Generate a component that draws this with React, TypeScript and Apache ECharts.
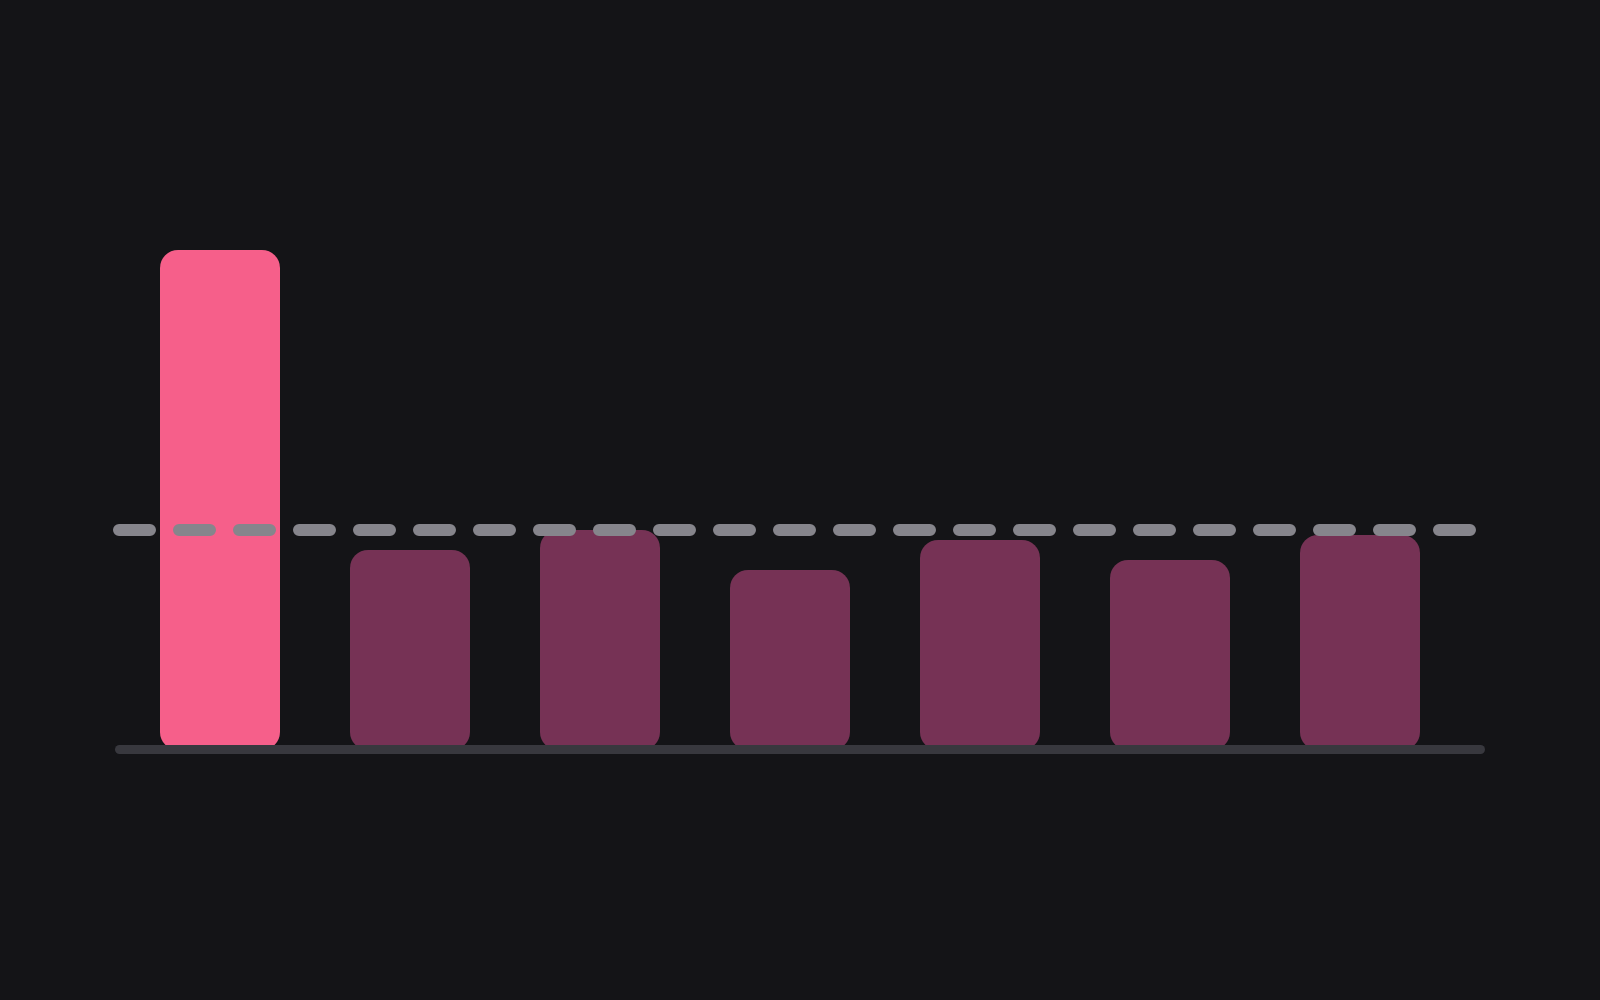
import { useEffect, useRef } from 'react';
import * as echarts from 'echarts';

// data
const categories = ['A', 'B', 'C', 'D', 'E', 'F', 'G'];
const values = [50, 20, 22, 18, 21, 19, 21.5];
const targetValue = 22;
const highlightIndex = 0;

const BG = '#141417';
const HIGHLIGHT = '#f65f8a';
const MUTED = '#763255';
const DASH = '#86858c';
const AXIS = '#38383e';

const GRID = { left: 125, right: 145, top: 150, bottom: 250 };

const App = () => {
    const chartRef = useRef<HTMLDivElement>(null);

    useEffect(() => {
        if (!chartRef.current) return;
        const chart = echarts.init(chartRef.current, undefined, { renderer: 'svg' });

        chart.setOption({
            animation: false,
            backgroundColor: BG,
            grid: GRID,
            xAxis: {
                type: 'category',
                data: categories,
                axisLine: { show: false },
                axisTick: { show: false },
                axisLabel: { show: false },
                splitLine: { show: false }
            },
            yAxis: {
                type: 'value',
                min: 0,
                max: 60,
                show: false,
                splitLine: { show: false }
            },
            series: [{
                type: 'bar',
                barWidth: 120,
                data: values.map((v, i) => ({
                    value: v,
                    itemStyle: { color: i === highlightIndex ? HIGHLIGHT : MUTED }
                })),
                itemStyle: { borderRadius: 18 }
            }]
        });

        // reference line and baseline drawn through the y scale
        const yTarget = chart.convertToPixel({ yAxisIndex: 0 }, targetValue) as number;
        const yBase = chart.convertToPixel({ yAxisIndex: 0 }, 0) as number;
        const gridLeft = GRID.left;
        const gridRight = 1600 - GRID.right;

        chart.setOption({
            graphic: [
                {
                    type: 'line',
                    z: 10,
                    shape: { x1: gridLeft - 5.5, y1: yBase - 0.5, x2: gridRight + 25.5, y2: yBase - 0.5 },
                    style: { stroke: AXIS, lineWidth: 9, lineCap: 'round' }
                },
                {
                    type: 'line',
                    z: 11,
                    shape: { x1: gridLeft - 6, y1: yTarget, x2: gridRight + 15, y2: yTarget },
                    style: { stroke: DASH, lineWidth: 12, lineCap: 'round', lineDash: [31, 29] }
                }
            ]
        });

        return () => chart.dispose();
    }, []);

    return (
        <div
            ref={chartRef}
            style={{ position: 'fixed', left: 0, top: 0, width: 1600, height: 1000, background: BG }}
        />
    );
};

export default App;
